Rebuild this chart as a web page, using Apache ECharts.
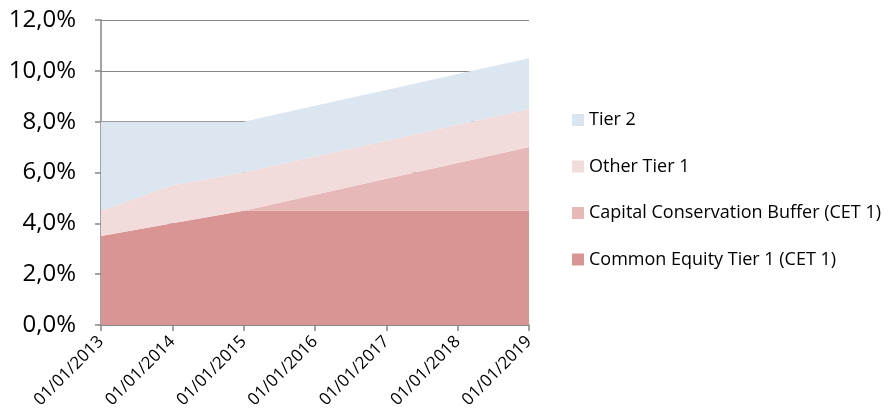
<!DOCTYPE html>
<html>
<head>
<meta charset="utf-8">
<script src="https://cdn.jsdelivr.net/npm/echarts@6/dist/echarts.min.js"></script>
<style>
  html, body { margin: 0; padding: 0; background: #fff; }
  #chart { width: 893px; height: 412px; }
</style>
</head>
<body>
<div id="chart"></div>
<script>
// categories and values (percent)
var dates = ['01/01/2013', '01/01/2014', '01/01/2015', '01/01/2016', '01/01/2017', '01/01/2018', '01/01/2019']
var cet1 = [3.5, 4.0, 4.5, 4.5, 4.5, 4.5, 4.5]
var conservationBuffer = [0, 0, 0, 0.625, 1.25, 1.875, 2.5]
var otherTier1 = [1.0, 1.5, 1.5, 1.5, 1.5, 1.5, 1.5]
var tier2 = [3.5, 2.5, 2.0, 2.0, 2.0, 2.0, 2.0]

var names = ['Common Equity Tier 1 (CET 1)', 'Capital Conservation Buffer (CET 1)', 'Other Tier 1', 'Tier 2']
var colors = ['#D99594', '#E6B8B7', '#F2DCDB', '#DCE6F1']
var font = '"Open Sans", Lato, sans-serif'

var chart = echarts.init(document.getElementById('chart'))

function areaSeries(name, data, color) {
  return {
    name: name,
    type: 'line',
    stack: 'total',
    data: data,
    symbol: 'none',
    lineStyle: { width: 0 },
    areaStyle: { color: color, opacity: 1 },
    itemStyle: { color: color }
  }
}

chart.setOption({
  animation: false,
  grid: { left: 101, right: 364, top: 20, bottom: 87 },
  legend: {
    orient: 'vertical',
    left: 567,
    top: 106,
    itemGap: 28.5,
    itemWidth: 12,
    itemHeight: 12,
    icon: 'rect',
    data: ['Tier 2', 'Other Tier 1', 'Capital Conservation Buffer (CET 1)', 'Common Equity Tier 1 (CET 1)'],
    textStyle: { fontFamily: font, fontSize: 18, lineHeight: 18, color: '#000' }
  },
  xAxis: {
    type: 'category',
    boundaryGap: false,
    data: dates,
    axisLine: { lineStyle: { color: '#868686', width: 1.5 } },
    axisTick: { show: true, length: 6, lineStyle: { color: '#868686', width: 1.5 } },
    axisLabel: {
      rotate: 45,
      fontFamily: font,
      fontSize: 17,
      color: '#000',
      margin: 14
    }
  },
  yAxis: {
    type: 'value',
    min: 0,
    max: 12,
    interval: 2,
    axisLine: { show: true, lineStyle: { color: '#868686', width: 1.5 } },
    axisTick: { show: true, length: 6, lineStyle: { color: '#868686', width: 1.5 } },
    splitLine: { show: true, lineStyle: { color: '#868686', width: 1.2 } },
    axisLabel: {
      fontFamily: font,
      fontSize: 24,
      color: '#000',
      margin: 25,
      formatter: function (v) { return v.toFixed(1).replace('.', ',') + '%' }
    }
  },
  series: [
    areaSeries(names[0], cet1, colors[0]),
    areaSeries(names[1], conservationBuffer, colors[1]),
    areaSeries(names[2], otherTier1, colors[2]),
    areaSeries(names[3], tier2, colors[3])
  ]
})
</script>
</body>
</html>
